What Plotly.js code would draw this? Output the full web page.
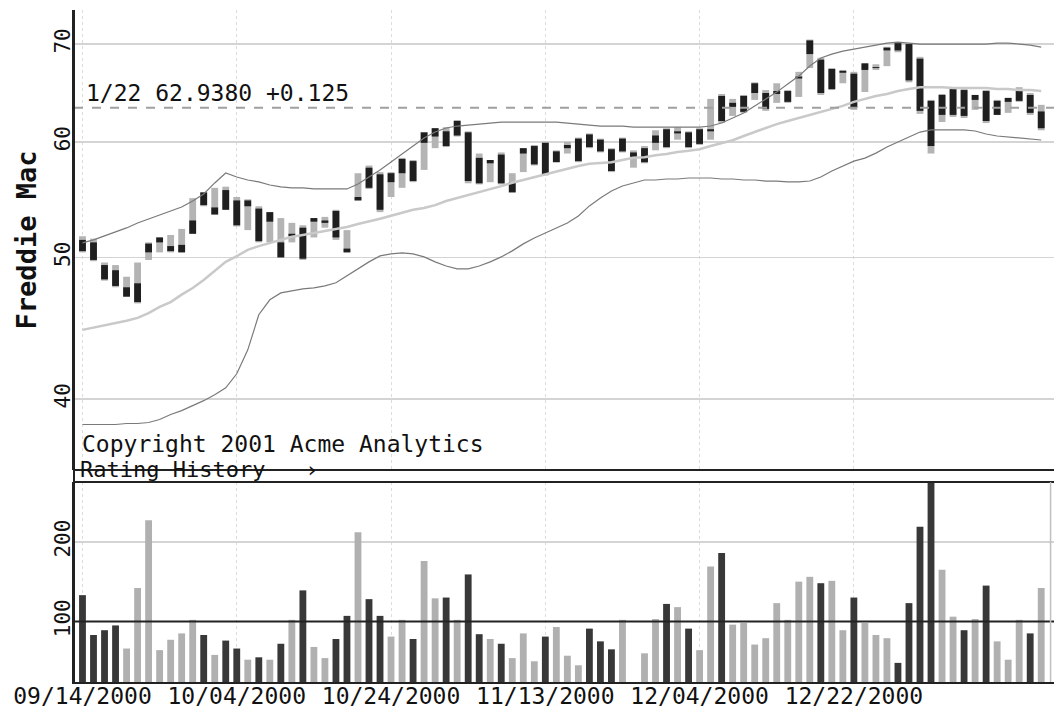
<!DOCTYPE html>
<html><head><meta charset="utf-8">
<script src="https://cdn.plot.ly/plotly-3.0.1.min.js"></script>
<style>html,body{margin:0;padding:0;background:#fff}#chart{width:1054px;height:709px}</style>
</head><body><div id="chart"></div>
<script>
const tickSlots = [0, 14, 28, 42, 56, 70];
const tickDates = ['09/14/2000','10/04/2000','10/24/2000','11/13/2000','12/04/2000','12/22/2000'];
const priceTicks = [40, 50, 60, 70];
const volTicks = [100, 200];

const open = [51.4,51.2,49.4,49.0,47.7,46.6,50.4,51.6,50.5,50.4,
 51.9,55.4,54.1,53.9,54.7,54.7,54.0,53.7,51.2,51.7,
 52.4,52.9,52.8,51.6,50.7,54.7,55.8,57.0,56.3,57.1,
 58.2,59.9,60.5,61.0,60.6,60.9,58.5,58.0,56.2,56.3,
 58.9,57.9,59.9,58.1,59.4,58.2,60.7,59.1,59.3,59.1,
 58.6,59.4,59.9,59.5,60.8,60.9,59.8,61.0,62.0,63.4,
 64.5,64.8,64.8,64.7,65.0,66.3,68.9,68.3,67.3,66.9,
 66.8,67.2,67.4,69.3,69.3,70.0,68.4,64.0,62.6,65.2,
 62.5,64.1,65.0,62.6,64.3,64.0,64.6,61.3];
const high = [51.7,51.5,49.6,49.4,48.5,49.6,51.2,51.6,51.8,52.3,
 54.9,55.4,55.8,55.9,55.0,54.8,54.2,53.7,53.2,52.8,
 52.6,53.2,53.3,53.9,52.2,57.1,57.8,57.2,57.2,58.5,
 58.3,60.9,61.3,61.4,62.1,61.0,58.9,58.3,59.0,57.1,
 59.4,59.7,60.0,59.2,60.0,60.4,60.8,60.3,59.4,60.4,
 59.2,59.6,61.1,61.3,61.4,61.0,61.3,64.2,64.7,64.2,
 64.6,65.9,65.1,65.8,65.1,67.0,70.5,68.5,67.4,67.2,
 67.0,67.9,67.8,69.7,70.2,70.1,68.6,64.1,64.7,65.3,
 65.3,64.6,65.1,64.1,64.3,65.4,64.8,63.6];
const low = [50.4,49.7,48.2,47.7,47.0,46.5,49.8,50.4,50.4,50.4,
 51.9,54.2,53.5,53.9,52.5,52.2,51.2,51.2,50.0,51.2,
 49.8,51.6,52.4,51.4,50.4,54.7,55.7,53.7,55.0,55.8,
 56.3,57.4,59.4,59.5,60.5,56.2,56.1,56.3,56.1,55.4,
 57.2,57.8,56.9,58.1,58.9,58.1,59.4,59.0,57.2,59.0,
 57.6,58.0,59.2,59.4,60.2,59.4,59.7,60.2,61.8,62.5,
 62.8,64.1,63.0,63.8,63.8,64.4,67.4,64.6,65.1,65.8,
 63.1,64.9,67.2,67.6,69.1,65.9,62.7,58.9,61.9,62.4,
 62.3,63.1,61.8,62.6,62.8,63.9,62.6,61.1];
const close = [50.5,49.8,48.3,47.8,47.0,48.0,51.1,51.2,50.9,51.0,
 53.0,54.3,53.5,55.6,52.6,54.2,51.3,52.9,50.0,51.9,
 49.9,53.2,53.0,53.8,50.4,55.0,57.6,53.9,57.1,58.4,
 56.4,60.9,61.3,59.6,62.0,56.4,56.2,58.3,58.8,55.4,
 59.4,59.6,57.0,59.1,59.7,60.3,59.5,60.2,57.3,60.3,
 59.0,58.1,60.6,61.2,61.0,59.5,61.2,61.2,64.5,63.8,
 62.9,65.8,63.2,65.0,63.9,66.5,70.4,64.8,65.2,67.1,
 63.3,67.9,67.5,69.6,70.1,66.1,63.0,59.6,64.6,62.6,
 65.1,64.6,62.0,64.0,63.9,65.2,62.8,62.94];

const upperBand = [51.16,51.40,51.73,52.05,52.38,52.79,53.13,53.47,53.80,54.14,
 54.66,55.26,56.23,57.12,56.76,56.49,56.32,56.05,55.88,55.79,
 55.79,55.70,55.70,55.70,55.70,56.14,56.76,57.39,58.11,58.85,
 59.60,60.36,60.93,61.32,61.51,61.61,61.70,61.80,61.90,61.90,
 61.90,61.90,61.90,61.90,61.80,61.70,61.61,61.51,61.51,61.51,
 61.41,61.41,61.41,61.41,61.41,61.41,61.41,61.51,61.80,62.29,
 62.78,63.48,64.18,64.89,65.72,66.55,67.61,68.47,68.90,69.23,
 69.45,69.67,69.89,70.11,70.22,70.11,70.00,70.00,70.00,70.00,
 70.00,70.00,70.00,70.11,70.11,70.00,69.89,69.67];
const movingAvg = [44.6,44.75,44.9,45.1,45.25,45.45,45.8,46.25,46.6,47.15,
 47.65,48.25,48.95,49.65,50.1,50.6,50.9,51.15,51.4,51.65,
 51.8,51.95,52.15,52.3,52.45,52.7,52.9,53.15,53.4,53.65,
 53.9,54.05,54.3,54.65,54.9,55.2,55.45,55.7,55.95,56.25,
 56.5,56.75,57.05,57.3,57.55,57.75,57.95,58.0,58.1,58.3,
 58.5,58.55,58.75,58.85,59.05,59.15,59.3,59.6,59.9,60.15,
 60.55,60.95,61.3,61.7,62.0,62.3,62.6,62.9,63.2,63.5,
 63.9,64.2,64.5,64.7,65.0,65.2,65.4,65.4,65.4,65.3,
 65.3,65.3,65.3,65.2,65.2,65.1,65.1,65.0];
const lowerBand = [38.42,38.42,38.42,38.42,38.48,38.48,38.54,38.72,39.03,39.27,
 39.58,39.89,40.27,40.71,41.62,43.22,45.68,46.77,47.28,47.43,
 47.58,47.65,47.80,48.04,48.57,49.10,49.65,50.12,50.28,50.36,
 50.28,50.04,49.65,49.33,49.10,49.10,49.33,49.65,50.04,50.52,
 51.08,51.56,51.97,52.38,52.79,53.38,54.23,54.92,55.52,55.96,
 56.23,56.49,56.49,56.58,56.58,56.67,56.67,56.67,56.58,56.58,
 56.49,56.49,56.40,56.40,56.32,56.32,56.40,56.76,57.30,57.75,
 58.20,58.48,58.94,59.51,59.98,60.45,60.93,61.13,61.13,61.13,
 61.13,61.03,60.74,60.55,60.45,60.36,60.26,60.17];

const volume = [133,83,89,95,66,142,227,64,77,85,
 102,83,58,76,66,52,55,52,72,102,
 139,68,54,78,107,212,128,107,81,102,
 78,176,129,130,102,159,84,78,72,54,
 85,50,81,93,57,45,91,75,65,102,
 18,60,103,122,118,91,64,169,186,96,
 98,71,79,123,102,150,156,148,151,89,
 130,98,83,79,48,123,219,300,165,106,
 89,103,145,75,52,102,85,142];
const volTone = ['d','d','d','d','l','l','l','l','l','l',
 'l','d','l','d','d','l','d','l','d','l',
 'd','l','l','d','d','l','d','d','l','l',
 'd','l','l','d','l','d','d','l','d','l',
 'l','l','d','l','l','l','d','d','d','l',
 'l','l','l','d','l','d','l','l','d','l',
 'l','l','l','l','l','l','l','d','l','l',
 'd','l','l','l','d','d','d','d','l','l',
 'd','l','d','l','l','l','d','l'];

const lastLabel = '1/22 62.9380 +0.125';
const refLevel = 63.3;
const volRef = 100;

const slot = open.map((_, i) => i);
const MONO = 'DejaVu Sans Mono';

const traces = [
  { type:'bar', x:slot, base:low, y:high.map((h,i)=>h-low[i]), yaxis:'y', xaxis:'x',
    width:0.62, marker:{color:'#b4b4b4', line:{width:0}}, hoverinfo:'skip' },
  { type:'bar', x:slot, base:open.map((o,i)=>Math.min(o,close[i])),
    y:open.map((o,i)=>Math.max(Math.abs(close[i]-o),0.1)), yaxis:'y', xaxis:'x',
    width:0.62, marker:{color:'#1f1f1f', line:{width:0}}, hoverinfo:'skip' },
  { type:'scatter', mode:'lines', x:slot, y:movingAvg, yaxis:'y', line:{color:'#c9c9c9', width:2.5} },
  { type:'scatter', mode:'lines', x:slot, y:upperBand, yaxis:'y', line:{color:'#7a7a7a', width:1.2} },
  { type:'scatter', mode:'lines', x:slot, y:lowerBand, yaxis:'y', line:{color:'#7a7a7a', width:1.2} },
  { type:'bar', x:slot, y:volume, yaxis:'y2', xaxis:'x', width:0.62,
    marker:{color:volTone.map(t=>t==='d'?'#383838':'#b0b0b0'), line:{width:0}} }
];

const layout = {
  width:1054, height:709, showlegend:false, barmode:'overlay',
  paper_bgcolor:'#fff', plot_bgcolor:'#fff',
  margin:{l:74, r:0, t:10, b:27},
  font:{family:MONO, color:'#111'},
  xaxis:{ domain:[0,1], range:[-0.77, 88.16], anchor:'y2', tickmode:'array',
    tickvals:tickSlots, ticktext:tickDates, ticks:'', ticklen:0, ticklabelstandoff:-8,
    tickfont:{family:MONO, size:23, color:'#111'},
    showgrid:true, gridcolor:'#dcdcdc', griddash:'dot', gridwidth:1,
    showline:true, linecolor:'#222', linewidth:2, zeroline:false, fixedrange:true },
  yaxis:{ domain:[0.3155,1], type:'log', range:[Math.log10(35.76), Math.log10(73.86)],
    tickmode:'array', tickvals:priceTicks, ticktext:priceTicks.map(String), tickangle:-90,
    tickfont:{family:MONO, size:21, color:'#111'}, ticks:'', ticklen:0, ticklabelstandoff:-6,
    showgrid:true, gridcolor:'#d4d4d4', gridwidth:1.5, showline:true, linecolor:'#222', linewidth:2,
    zeroline:false, anchor:'x',
    title:{text:'Freddie Mac', font:{family:MONO, size:27, weight:'bold', color:'#111'}, standoff:6} },
  yaxis2:{ domain:[0,0.2976], range:[24,275], tickmode:'array', tickvals:volTicks,
    ticktext:volTicks.map(String), tickangle:-90, tickfont:{family:MONO, size:21, color:'#111'},
    ticks:'', ticklen:0, ticklabelstandoff:-6,
    showgrid:true, gridcolor:'#d4d4d4', gridwidth:1.5, showline:true, linecolor:'#222', linewidth:2,
    zeroline:false, anchor:'x' },
  shapes:[
    { type:'line', xref:'paper', yref:'y', x0:0, x1:1, y0:refLevel, y1:refLevel,
      line:{color:'#a0a0a0', width:2, dash:'dash'} },
    { type:'line', xref:'paper', yref:'y2', x0:0, x1:1, y0:volRef, y1:volRef,
      line:{color:'#222', width:2} },
    { type:'line', xref:'paper', yref:'paper', x0:0, x1:1, y0:0.3155, y1:0.3155, line:{color:'#222', width:2} },
    { type:'line', xref:'paper', yref:'paper', x0:0, x1:1, y0:0.2976, y1:0.2976, line:{color:'#222', width:2} },
    { type:'line', xref:'paper', yref:'paper', x0:0, x1:0, y0:0, y1:1, line:{color:'#222', width:2} },
    { type:'line', xref:'paper', yref:'paper', x0:0.9965, x1:0.9965, y0:0, y1:0.2976, line:{color:'#c0c0c0', width:1.5} }
  ],
  annotations:[
    { xref:'paper', yref:'paper', x:0.0102, y:0.8765, xanchor:'left', yanchor:'middle', showarrow:false,
      text:lastLabel, font:{family:MONO, size:23, color:'#111'} },
    { xref:'paper', yref:'paper', x:0.006, y:0.3541, xanchor:'left', yanchor:'middle', showarrow:false,
      text:'Copyright 2001 Acme Analytics', font:{family:MONO, size:23, color:'#111'} },
    { xref:'paper', yref:'paper', x:0.004, y:0.3165, xanchor:'left', yanchor:'middle', showarrow:false,
      text:'Rating History   ›', font:{family:MONO, size:22, color:'#111'} }
  ]
};

Plotly.newPlot('chart', traces, layout, {displayModeBar:false, staticPlot:true});
</script>
</body></html>
